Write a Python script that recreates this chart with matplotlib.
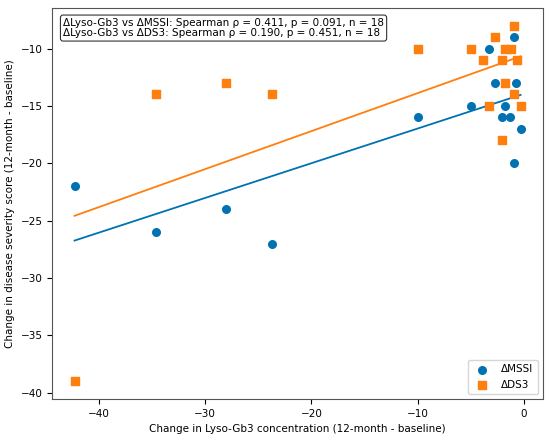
import numpy as np
import matplotlib
matplotlib.use("Agg")
import matplotlib.pyplot as plt

# change in Lyso-Gb3 (12-month - baseline)
lyso_mssi = [-42.3, -34.65, -28.05, -23.7, -10.0, -5.0, -3.8, -3.3, -2.7,
             -2.06, -2.0, -1.8, -1.8, -1.25, -0.9, -0.9, -0.7, -0.3]
d_mssi = [-22, -26, -24, -27, -16, -15, -11, -10, -13,
          -16, -18, -15, -13, -16, -9, -20, -13, -17]

lyso_ds3 = [-42.3, -34.65, -28.05, -23.7, -10.0, -5.0, -3.8, -3.3, -2.7,
            -2.06, -2.0, -1.8, -1.8, -1.2, -0.9, -0.9, -0.66, -0.3]
d_ds3 = [-39, -14, -13, -14, -10, -10, -11, -15, -9,
         -11, -18, -13, -10, -10, -8, -14, -11, -15]

stats_txt = ["\u0394Lyso-Gb3 vs \u0394MSSI: Spearman \u03c1 = 0.411, p = 0.091, n = 18",
             "\u0394Lyso-Gb3 vs \u0394DS3: Spearman \u03c1 = 0.190, p = 0.451, n = 18"]

c_blue = '#0072B2'
c_orange = '#FF7F0E'

plt.rcParams['font.size'] = 7.5

fig = plt.figure(figsize=(5.5, 4.38), dpi=100)
ax = fig.add_axes([0.095, 0.089, 0.892, 0.893])

ax.scatter(lyso_mssi, d_mssi, s=30, marker='o', color=c_blue, label='\u0394MSSI', zorder=3)
ax.scatter(lyso_ds3, d_ds3, s=30, marker='s', color=c_orange, label='\u0394DS3', zorder=3)

# linear fits
for xs, ys, c in [(lyso_mssi, d_mssi, c_blue), (lyso_ds3, d_ds3, c_orange)]:
    xs = np.array(xs)
    k, b = np.polyfit(xs, ys, 1)
    xx = np.array([xs.min(), xs.max()])
    ax.plot(xx, k * xx + b, color=c, lw=1.3, zorder=2)

ax.text(0.022, 0.975, "\n".join(stats_txt), transform=ax.transAxes, va='top', ha='left',
        fontsize=7.5, linespacing=1.1,
        bbox=dict(boxstyle='round,pad=0.25', fc='white', ec='#333333', lw=0.8))

ax.set_xlabel('Change in Lyso-Gb3 concentration (12-month - baseline)')
ax.set_ylabel('Change in disease severity score (12-month - baseline)')
ax.legend(loc='lower right', fontsize=7.5)

for sp in ax.spines.values():
    sp.set_color('#555555')

fig.savefig('out.png', dpi=100)
